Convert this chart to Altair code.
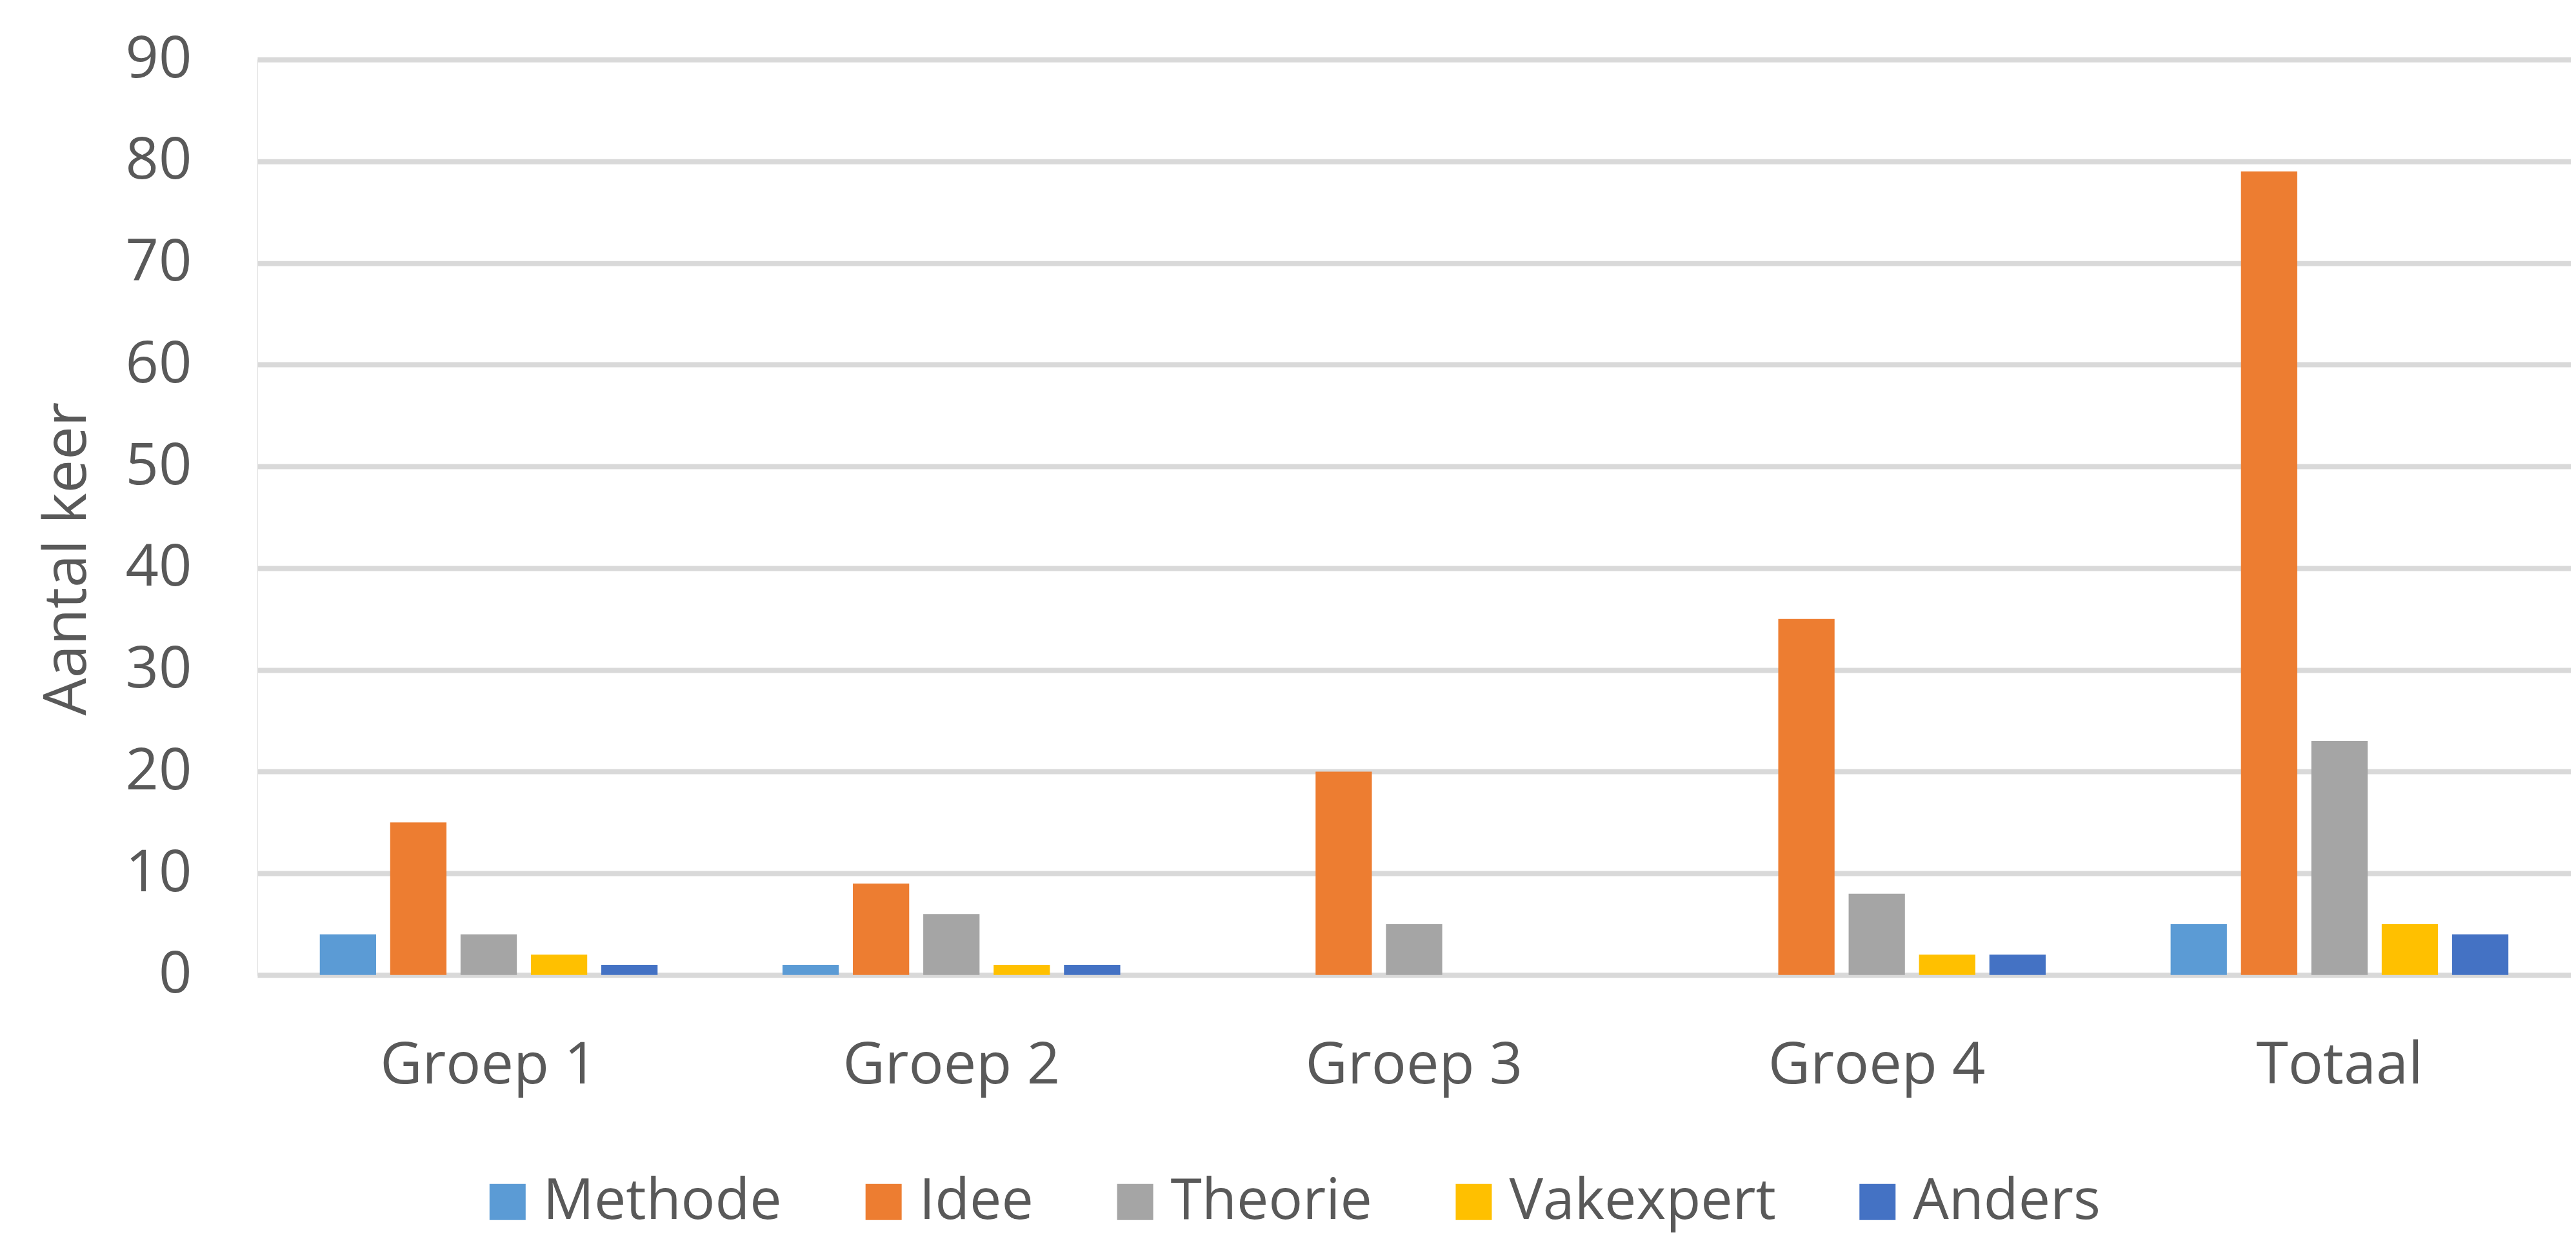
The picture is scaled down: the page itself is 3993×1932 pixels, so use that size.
import altair as alt
import pandas as pd

groups = ["Groep 1", "Groep 2", "Groep 3", "Groep 4", "Totaal"]
series = ["Methode", "Idee", "Theorie", "Vakexpert", "Anders"]
colors = ["#5B9BD5", "#ED7D31", "#A5A5A5", "#FFC000", "#4472C4"]

methode = [4, 1, 0, 0, 5]
idee = [15, 9, 20, 35, 79]
theorie = [4, 6, 5, 8, 23]
vakexpert = [2, 1, 0, 2, 5]
anders = [1, 1, 0, 2, 4]
y_ticks = [0, 10, 20, 30, 40, 50, 60, 70, 80, 90]

rows = []
for s, vals in zip(series, [methode, idee, theorie, vakexpert, anders]):
    for g, v in zip(groups, vals):
        rows.append({"groep": g, "reeks": s, "aantal": v})
df = pd.DataFrame(rows)

TXT = "#595959"
FONT = "Open Sans"

chart = alt.Chart(df).mark_bar().encode(
    x=alt.X(
        "groep:N", sort=groups,
        scale=alt.Scale(paddingInner=0.27, paddingOuter=0.135),
        axis=alt.Axis(
            title=None, labelAngle=0, domain=False, ticks=False, tickSize=0,
            labelFontSize=90, labelColor=TXT, labelFont=FONT,
            labelBaseline="alphabetic", labelPadding=168, labelLimit=2000,
            grid=False,
        ),
    ),
    xOffset=alt.XOffset(
        "reeks:N", sort=series,
        scale=alt.Scale(paddingInner=0.2, paddingOuter=0),
    ),
    y=alt.Y(
        "aantal:Q",
        scale=alt.Scale(domain=[0, 90], nice=False),
        axis=alt.Axis(
            values=y_ticks, title="Aantal keer", domain=False, ticks=False, tickSize=0,
            labelFontSize=90, labelColor=TXT, labelFont=FONT, labelPadding=102,
            labelBaseline="middle",
            grid=True, gridColor="#D9D9D9", gridWidth=8,
            titleFontSize=92, titleColor=TXT, titleFont=FONT, titleFontWeight="normal",
            titleX=-266, titleY=774, titleAlign="center", titleBaseline="alphabetic",
            titleAngle=270,
        ),
    ),
    color=alt.Color(
        "reeks:N", sort=series,
        scale=alt.Scale(domain=series, range=colors),
        legend=alt.Legend(
            title=None, orient="none", direction="horizontal",
            legendX=344, legendY=1728,
            symbolType="square", symbolSize=3136, symbolStrokeWidth=0,
            symbolOpacity=1,
            labelFontSize=88, labelColor=TXT, labelFont=FONT,
            labelOffset=11, columnPadding=113, labelLimit=2000,
            padding=0,
        ),
    ),
).properties(
    width=3587,
    height=1420,
    padding={"left": 391, "top": 84, "right": 0, "bottom": 412},
    autosize=alt.AutoSizeParams(type="none"),
).configure_view(stroke=None).configure(font=FONT)

chart.save("out.html", embed_options={"renderer": "svg", "actions": False})
